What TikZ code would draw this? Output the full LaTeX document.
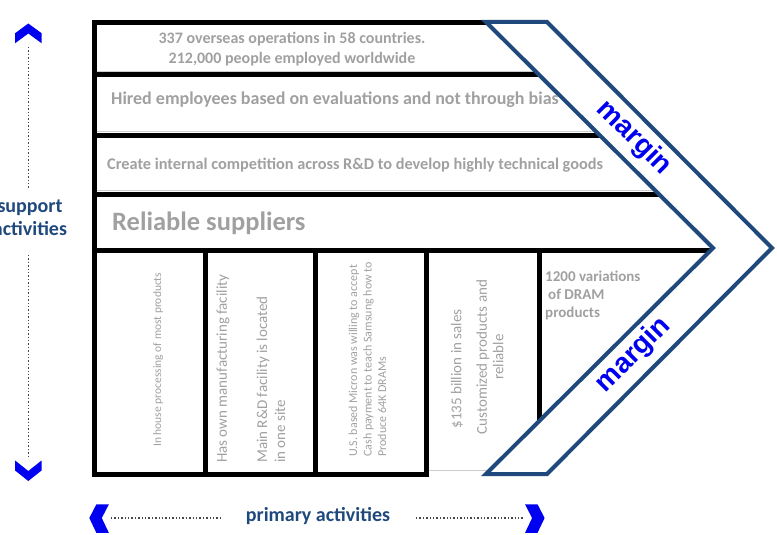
\documentclass[tikz,border=0pt]{standalone}
\usepackage{fontspec}
\setmainfont{Carlito}
\newfontfamily\arialfont{Liberation Sans}
\definecolor{txtgray}{RGB}{160,160,160}
\definecolor{navy}{RGB}{31,73,125}
\definecolor{brightblue}{RGB}{0,0,240}
\definecolor{dotgray}{RGB}{70,70,70}
\definecolor{hairgray}{RGB}{205,205,205}
\begin{document}
\begin{tikzpicture}[x=1pt,y=-1pt,
  blackline/.style={line width=5pt, black},
  hairline/.style={line width=0.8pt, hairgray},
  rowtext/.style={text=txtgray, inner sep=0pt},
  coltext/.style={text=txtgray, rotate=90, inner sep=0pt, anchor=west, align=left},
  marginlbl/.style={text=brightblue, font=\arialfont\bfseries\fontsize{28}{32}\selectfont, inner sep=0pt},
  axislbl/.style={text=navy, font=\bfseries\fontsize{20}{23}\selectfont, inner sep=0pt, align=center},
  chev/.style={fill=brightblue, draw=none},
  guide/.style={dotgray, line width=1.4pt, dash pattern=on 1.4pt off 2pt},
  chevron/.style={navy, line width=4pt, fill=white, line join=miter}]
\useasboundingbox (0,0) rectangle (777,535);

% thin gray row bottoms
\draw[hairline] (97,71.5) -- (540,71.5);
\draw[hairline] (97,131) -- (600,131);
\draw[hairline] (97,190.5) -- (660,190.5);
\draw[hairline] (428,470) -- (492,470);

% black frame lines
\draw[blackline] (92,22.5) -- (490,22.5);
\draw[blackline] (92,75) -- (545,75);
\draw[blackline] (92,135) -- (605,135);
\draw[blackline] (92,194.5) -- (665,194.5);
\draw[blackline] (92,250.5) -- (716,250.5);
\draw[blackline] (94.5,20) -- (94.5,477);
\draw[blackline] (205,250) -- (205,477);
\draw[blackline] (315.5,250) -- (315.5,477);
\draw[blackline] (426,250) -- (426,477);
\draw[blackline] (539,250) -- (539,440);
\draw[blackline] (92,474.5) -- (428.5,474.5);

% margin chevron
\draw[chevron] (486,22) -- (547,22) -- (772,248) -- (547,474) -- (486,474) -- (713,248) -- cycle;

% support rows
\node[rowtext, font=\bfseries\fontsize{16}{20}\selectfont, align=center] (r1) at (292,49) {337 overseas operations in 58 countries.\\212,000 people employed worldwide};
\node[rowtext, font=\bfseries\fontsize{18}{22}\selectfont, anchor=west] (r2) at (111,100) {Hired employees based on evaluations and not through bias};
\node[rowtext, font=\bfseries\fontsize{16.3}{20}\selectfont, anchor=west] (r3) at (107,165) {Create internal competition across R\&D to develop highly technical goods};
\node[rowtext, font=\bfseries\fontsize{26.5}{30}\selectfont, anchor=west] (r4) at (112,223) {Reliable suppliers};

% primary columns
\node[coltext, font=\fontsize{11.5}{14}\selectfont] (c1) at (158,447) {In house processing of most products};
\node[coltext, font=\fontsize{15}{18}\selectfont] (c2a) at (223,463) {Has own manufacturing facility};
\node[coltext, font=\fontsize{15}{18}\selectfont] (c2b) at (271,463) {Main R\&D facility is located\\in one site};
\node[coltext, font=\fontsize{12}{14.5}\selectfont] (c3) at (367.5,457) {U.S. based Micron was willing to accept\\Cash payment to teach Samsung how to\\Produce 64K DRAMs};
\node[rowtext, rotate=90, font=\fontsize{15}{18}\selectfont] (c4a) at (457,369) {\$135 billion in sales};
\node[rowtext, rotate=90, align=center, font=\fontsize{15}{16.5}\selectfont] (c4b) at (490,357) {Customized products and\\reliable};
\node[rowtext, anchor=north west, align=left, font=\bfseries\fontsize{15}{18}\selectfont] (c5) at (545,271) {1200 variations\\\hspace*{3pt}of DRAM\\products};

% margin labels
\node[marginlbl, rotate=-45] (m1) at (634,138) {margin};
\node[marginlbl, rotate=45] (m2) at (633.5,355) {margin};

% axis labels
\node[axislbl] (sup) at (30,218) {support\\activities};
\node[axislbl] (pri) at (318,516) {primary activities};

% vertical guide
\fill[chev] (15,33.3) -- (28.3,23.5) -- (41.7,33.3) -- (41.7,43.3) -- (28.3,33.5) -- (15,43.3) -- cycle;
\fill[chev] (15,460.4) -- (28.3,471) -- (41.7,460.4) -- (41.7,470.4) -- (28.3,481) -- (15,470.4) -- cycle;
\draw[guide] (28.3,47) -- (28.3,188);
\draw[guide] (28.3,255) -- (28.3,456);

% horizontal guide
\fill[chev] (89.3,518) -- (96.4,504.3) -- (108.9,504.3) -- (101.8,518) -- (108.9,532.9) -- (96.4,532.9) -- cycle;
\fill[chev] (544.6,518) -- (537.5,504.3) -- (525,504.3) -- (532.1,518) -- (525,532.9) -- (537.5,532.9) -- cycle;
\draw[guide] (111,518) -- (221,518);
\draw[guide] (416,518) -- (523,518);
\end{tikzpicture}
\end{document}
